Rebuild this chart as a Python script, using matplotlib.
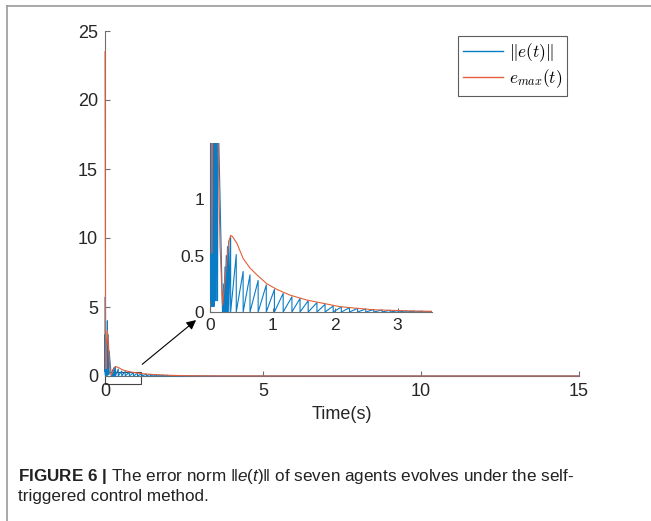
import matplotlib
matplotlib.use('Agg')
import matplotlib.pyplot as plt
from matplotlib.font_manager import FontProperties
from matplotlib.patches import Rectangle
from matplotlib.lines import Line2D

plt.rcParams['font.family'] = ['Liberation Sans', 'DejaVu Sans']
plt.rcParams['mathtext.fontset'] = 'custom'
plt.rcParams['mathtext.rm'] = 'Liberation Sans'
plt.rcParams['mathtext.it'] = 'Liberation Sans:italic'
plt.rcParams['mathtext.bf'] = 'Liberation Sans:bold'

# e_max(t)
emax_t = [0, 0.01, 0.02, 0.03, 0.045, 0.075, 0.1, 0.13, 0.16, 0.2, 0.25, 0.3,
          0.33, 0.36, 0.43, 0.53, 0.64, 0.75, 0.91, 1.07, 1.28, 1.55, 1.81,
          2.08, 2.35, 2.61, 2.88, 3.2, 3.55, 5, 15]
emax_v = [23.5, 10, 3, 0.52, 2.0, 3.3, 2.5, 1.5, 0.6, 0.06, 0.35, 0.62,
          0.68, 0.67, 0.61, 0.475, 0.39, 0.33, 0.25, 0.20, 0.15, 0.106, 0.077,
          0.047, 0.033, 0.02, 0.015, 0.01, 0.006, 0.002, 0.0]

# ||e(t)|| at the start (dense triggering)
early_t = [0, 0.002, 0.008, 0.012, 0.02, 0.025, 0.03, 0.035, 0.045, 0.05, 0.06,
           0.065, 0.075, 0.08, 0.09, 0.1, 0.11, 0.12, 0.13, 0.2]
early_v = [5.7, 0.3, 3.0, 0.1, 2.2, 0.05, 0.5, 0.05, 1.8, 0.05, 2.6,
           0.05, 4.0, 0.1, 3.0, 0.1, 2.5, 0.1, 1.8, 0.0]

# trigger instants and the value of ||e|| just before each reset
trig_t = [0.20, 0.22, 0.24, 0.26, 0.28, 0.30, 0.33, 0.42, 0.53, 0.64, 0.77,
          0.90, 1.03, 1.17, 1.31, 1.44, 1.57, 1.71, 1.84, 1.97, 2.10, 2.23,
          2.36, 2.49, 2.62, 2.75, 2.88, 3.01, 3.14, 3.27, 3.40, 3.53]
peak_v = [0.25, 0.4, 0.5, 0.58, 0.63, 0.67, 0.51, 0.36, 0.33, 0.28, 0.24,
          0.20, 0.165, 0.135, 0.12, 0.10, 0.083, 0.068, 0.053, 0.045, 0.038,
          0.032, 0.027, 0.022, 0.018, 0.015, 0.012, 0.010, 0.008, 0.006, 0.005]

blue_t = list(early_t)
blue_v = list(early_v)
for i in range(1, len(trig_t)):
    blue_t += [trig_t[i], trig_t[i]]
    blue_v += [peak_v[i - 1], 0]
blue_t.append(15)
blue_v.append(0)

c_blue = '#0a7cc6'
c_orange = '#E4603A'
c_axis = '#6e6e6e'
c_text = '#262626'

fig = plt.figure(figsize=(6.51, 5.21), dpi=100)

ax = fig.add_axes([105/651, 1-376/521, 474/651, 345/521])
ax.plot(blue_t, blue_v, color=c_blue, lw=0.8, label=r'$\|e(t)\|$',
        zorder=3, clip_on=False)
ax.plot(emax_t, emax_v, color=c_orange, lw=0.8, label=r'$e_{max}(t)$',
        zorder=3, clip_on=False)
ax.set_xlim(0, 15)
ax.set_ylim(0, 25)
ax.set_xticks([0, 5, 10, 15])
ax.set_yticks([0, 5, 10, 15, 20, 25])
ax.spines['top'].set_visible(False)
ax.spines['right'].set_visible(False)
for s in ['left', 'bottom']:
    ax.spines[s].set_color(c_axis)
    ax.spines[s].set_linewidth(0.8)
ax.tick_params(direction='in', length=3.5, width=0.8, color=c_axis,
               labelsize=13, labelcolor=c_text, pad=5)
ax.set_xlabel('Time(s)', fontsize=13, color=c_text, labelpad=4)

leg = ax.legend(loc='upper right', bbox_to_anchor=(0.975, 0.985), fancybox=False,
                prop=FontProperties(size=12.5, math_fontfamily='cm'),
                handlelength=2.3, borderpad=0.3, labelspacing=0.2,
                handletextpad=0.3, borderaxespad=0)
leg.get_frame().set_edgecolor('#333333')
leg.get_frame().set_linewidth(0.8)
for h in leg.get_lines():
    h.set_linewidth(1.0)

# zoom box and arrow
ax.add_patch(Rectangle((0, -0.58), 1.14, 0.87, fill=False, ec='#444444',
                       lw=0.8, clip_on=False))
ax.annotate('', xy=(2.95, 4.18), xytext=(1.11, 0.72), annotation_clip=False,
            arrowprops=dict(arrowstyle='-|>', color='black', lw=0.8,
                            mutation_scale=14))

# inset
ins = fig.add_axes([210/651, 1-312/521, 222/651, 169/521])
ins.plot(blue_t, blue_v, color=c_blue, lw=0.8, zorder=3)
ins.plot(emax_t, emax_v, color=c_orange, lw=0.8, zorder=3)
ins.set_xlim(0, 3.55)
ins.set_ylim(0, 1.5)
ins.set_xticks([0, 1, 2, 3])
ins.set_yticks([0, 0.5, 1])
ins.set_yticklabels(['0', '0.5', '1'])
ins.spines['top'].set_visible(False)
ins.spines['right'].set_visible(False)
for s in ['left', 'bottom']:
    ins.spines[s].set_color(c_axis)
    ins.spines[s].set_linewidth(0.8)
ins.tick_params(direction='in', length=3, width=0.8, color=c_axis,
                labelsize=12.5, labelcolor=c_text, pad=4)

# figure border (top and left)
fig.add_artist(Line2D([7/651, 1], [1-6/521, 1-6/521], transform=fig.transFigure,
                      color='#9a9a9a', lw=1.2))
fig.add_artist(Line2D([7/651, 7/651], [0, 1-6/521], transform=fig.transFigure,
                      color='#9a9a9a', lw=1.2))

# caption
fig.text(18/651, 1-481/521,
         r'$\mathbf{FIGURE\ 6\ |}$ The error norm $\|e(t)\|$ of seven agents '
         r'evolves under the self-',
         fontsize=12.3, color='#222222', va='baseline')
fig.text(18/651, 1-501/521, 'triggered control method.', fontsize=12.3,
         color='#222222', va='baseline')

fig.savefig('out.png', dpi=100)
